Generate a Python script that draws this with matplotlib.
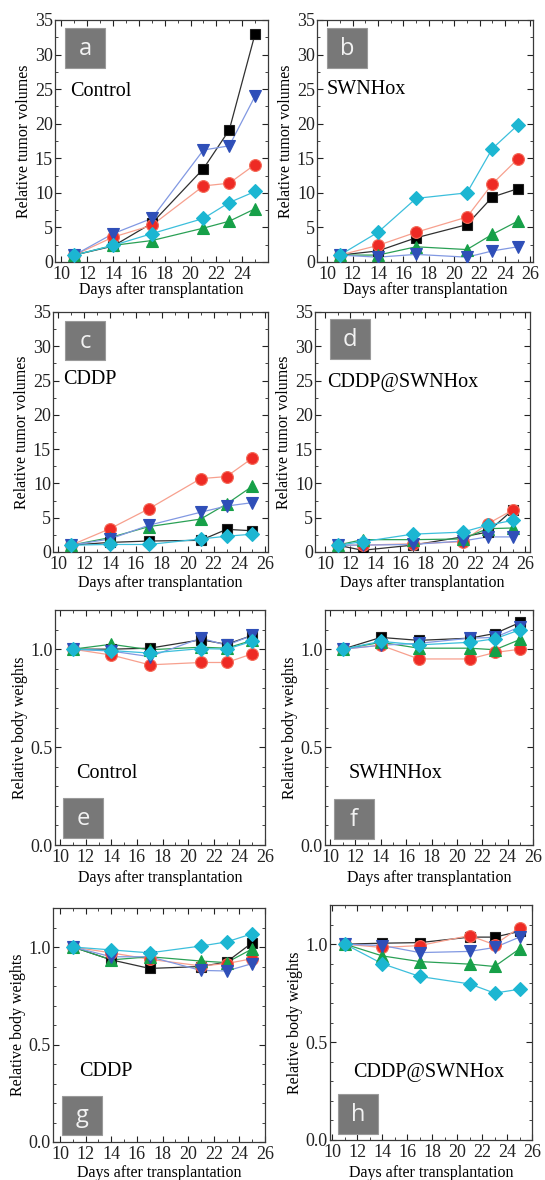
import matplotlib
matplotlib.use("Agg")
import matplotlib.pyplot as plt
from matplotlib.ticker import MultipleLocator
from matplotlib.patches import Rectangle

W, H = 545, 1180
SERIF = ['Liberation Serif', 'DejaVu Serif']
plt.rcParams['font.family'] = SERIF

days = [11, 14, 17, 21, 23, 25]
days_d = [11, 13, 17, 21, 23, 25]

# Tumor volumes
tumor_a = {
    'black': [1.0, 2.3, 5.6, 13.5, 19.1, 33.0],
    'red':   [1.0, 3.6, 5.3, 11.0, 11.4, 14.1],
    'green': [1.0, 2.4, 3.1, 4.9, 5.9, 7.7],
    'blue':  [1.0, 4.1, 6.3, 16.2, 16.8, 24.0],
    'cyan':  [1.0, 2.4, 4.1, 6.3, 8.6, 10.2],
}
tumor_b = {
    'black': [1.0, 1.6, 3.5, 5.4, 9.4, 10.6],
    'red':   [1.0, 2.4, 4.3, 6.5, 11.3, 14.9],
    'green': [1.0, 1.0, 2.2, 1.8, 4.0, 5.9],
    'blue':  [1.0, 0.7, 1.1, 0.7, 1.6, 2.2],
    'cyan':  [1.0, 4.3, 9.2, 10.0, 16.4, 19.8],
}
tumor_c = {
    'black': [1.0, 1.4, 1.6, 1.7, 3.3, 3.1],
    'red':   [1.0, 3.4, 6.3, 10.7, 11.0, 13.7],
    'green': [1.0, 2.1, 3.7, 4.8, 7.0, 9.6],
    'blue':  [1.0, 1.9, 3.9, 5.8, 6.7, 7.2],
    'cyan':  [1.0, 1.1, 1.1, 1.9, 2.3, 2.6],
}
tumor_d = {
    'black': [1.0, 0.25, 1.0, 2.2, 2.9, 6.1],
    'red':   [1.0, 1.0, 1.2, 1.5, 4.1, 6.1],
    'green': [1.0, 1.8, 1.8, 1.9, 3.4, 3.5],
    'blue':  [1.0, 1.0, 1.1, 1.6, 2.2, 2.2],
    'cyan':  [1.0, 1.5, 2.6, 2.9, 3.9, 4.6],
}
# Relative body weights
weight_e = {
    'black': [1.0, 1.0, 1.005, 1.048, 1.025, 1.07],
    'red':   [1.0, 0.97, 0.92, 0.932, 0.932, 0.976],
    'green': [1.0, 1.025, 0.997, 1.01, 1.005, 1.045],
    'blue':  [1.0, 0.99, 0.962, 1.056, 1.02, 1.07],
    'cyan':  [1.0, 0.993, 0.98, 1.003, 1.0, 1.04],
}
weight_f = {
    'black': [1.0, 1.06, 1.045, 1.056, 1.08, 1.137],
    'red':   [1.0, 1.02, 0.95, 0.95, 0.983, 1.0],
    'green': [1.0, 1.035, 1.005, 1.005, 0.997, 1.05],
    'blue':  [1.0, 1.02, 1.03, 1.056, 1.06, 1.115],
    'cyan':  [1.0, 1.04, 1.022, 1.035, 1.053, 1.1],
}
weight_g = {
    'black': [1.0, 0.934, 0.89, 0.90, 0.923, 1.022],
    'red':   [1.0, 0.97, 0.937, 0.903, 0.915, 0.94],
    'green': [1.0, 0.934, 0.95, 0.928, 0.92, 0.99],
    'blue':  [1.0, 0.95, 0.95, 0.88, 0.877, 0.915],
    'cyan':  [1.0, 0.985, 0.97, 1.005, 1.026, 1.068],
}
weight_h = {
    'black': [1.0, 1.005, 1.008, 1.036, 1.036, 1.065],
    'red':   [1.0, 0.983, 0.993, 1.044, 0.997, 1.085],
    'green': [1.0, 0.94, 0.911, 0.898, 0.886, 0.976],
    'blue':  [1.0, 0.993, 0.957, 0.963, 0.983, 1.036],
    'cyan':  [1.0, 0.9, 0.835, 0.797, 0.75, 0.77],
}

styles = {
    'black': dict(marker='s', mfc='#000000', mec='#202020', line='#303030', ms=7.5),
    'red':   dict(marker='o', mfc='#ee2a24', mec='#f56a58', line='#f7a08e', ms=8.5),
    'green': dict(marker='^', mfc='#16a048', mec='#16a048', line='#2aa055', ms=9),
    'blue':  dict(marker='v', mfc='#2f4fb8', mec='#2f4fb8', line='#8198e2', ms=9),
    'cyan':  dict(marker='D', mfc='#1cb6d2', mec='#1cb6d2', line='#3cbfdc', ms=7.5),
}
order = ['black', 'red', 'green', 'blue', 'cyan']

fig = plt.figure(figsize=(W / 100, H / 100), dpi=100)


def rect(l, r, t, b):
    return [l / W, 1 - b / H, (r - l) / W, (b - t) / H]


def ftext(x, y, s, **kw):
    kw.setdefault('family', SERIF)
    fig.text(x / W, 1 - y / H, s, **kw)


def letter_box(x0, x1, y0, y1, s):
    fig.patches.append(Rectangle((x0 / W, 1 - y1 / H), (x1 - x0) / W, (y1 - y0) / H,
                                 transform=fig.transFigure, facecolor='#787878',
                                 edgecolor='#9a9a9a', lw=0.8, zorder=5))
    ftext((x0 + x1) / 2, (y0 + y1) / 2 + 1, s, color='#f2f2f2', fontsize=17,
          family=['Open Sans', 'DejaVu Sans'], ha='center', va='center', zorder=6)


panels = [
    (tumor_a, days, (55, 268, 20, 262), (9.5, 26.0), 'tumor', 'Control', (70, 91), (65, 105, 28, 68), 'a', 290, list(range(10, 25, 2))),
    (tumor_b, days, (317, 533, 20, 262), (9.2, 26.2), 'tumor', 'SWNHox', (327, 90), (327, 367, 28, 68), 'b', 290, list(range(10, 27, 2))),
    (tumor_c, days, (53, 268, 312, 552), (9.6, 26.2), 'tumor', 'CDDP', (63, 380), (65, 105, 321, 360), 'c', 583, list(range(10, 27, 2))),
    (tumor_d, days_d, (315, 530, 312, 552), (9.2, 26.4), 'tumor', 'CDDP@SWNHox', (327, 382), (330, 370, 319, 359), 'd', 583, list(range(10, 27, 2))),
    (weight_e, days, (55, 265, 610, 845), (9.6, 26.0), 'weight', 'Control', (76, 774), (63, 103, 798, 838), 'e', 878, list(range(10, 27, 2))),
    (weight_f, days, (325, 533, 610, 845), (9.6, 26.0), 'weight', 'SWHNHox', (349, 773), (334, 374, 799, 839), 'f', 878, list(range(10, 27, 2))),
    (weight_g, days, (53, 265, 908, 1142), (9.45, 26.0), 'weight', 'CDDP', (79, 1072), (62, 102, 1096, 1135), 'g', 1173, list(range(10, 27, 2))),
    (weight_h, days, (330, 532, 905, 1140), (9.8, 26.0), 'weight', 'CDDP@SWNHox', (353, 1073), (338, 378, 1094, 1134), 'h', 1173, list(range(10, 27, 2))),
]

for data, xs, rc, xlim, kind, title, tpos, box, letter, xly, xt in panels:
    ax = fig.add_axes(rect(*rc))
    for key in order:
        st = styles[key]
        ax.plot(xs, data[key], '-', color=st['line'], lw=0.9, zorder=2)
        ax.plot(xs, data[key], linestyle='none', marker=st['marker'], ms=st['ms'],
                mfc=st['mfc'], mec=st['mec'], mew=0.8, zorder=3)
    ax.set_xlim(*xlim)
    ax.set_xticks(xt)
    ax.set_xticklabels([str(v) for v in xt], family=SERIF, fontsize=13)
    ax.xaxis.set_minor_locator(MultipleLocator(1))
    if kind == 'tumor':
        ax.set_ylim(0, 35)
        yt = list(range(0, 36, 5))
        ax.set_yticks(yt)
        ax.set_yticklabels([str(v) for v in yt], family=SERIF, fontsize=13)
        ax.yaxis.set_minor_locator(MultipleLocator(2.5))
        ax.set_ylabel('Relative tumor volumes', fontsize=11.5, labelpad=2, family=SERIF)
    else:
        ax.set_ylim(0, 1.2)
        ax.set_yticks([0.0, 0.5, 1.0])
        ax.set_yticklabels(['0.0', '0.5', '1.0'], family=SERIF, fontsize=13)
        ax.yaxis.set_minor_locator(MultipleLocator(0.1))
        ax.set_ylabel('Relative body weights', fontsize=11.5, labelpad=2, family=SERIF)
    ax.tick_params(which='both', direction='in', top=True, right=True,
                   colors='#222222')
    ax.tick_params(axis='x', pad=3)
    ax.tick_params(axis='y', pad=1.5)
    ax.tick_params(which='major', length=4, width=0.8)
    ax.tick_params(which='minor', length=2, width=0.6)
    for sp in ax.spines.values():
        sp.set_color('#3a3a3a')
        sp.set_linewidth(0.9)
    cx = (rc[0] + rc[1]) / 2
    ftext(cx, xly, 'Days after transplantation', fontsize=11.5, ha='center', va='center')
    ftext(tpos[0], tpos[1], title, fontsize=14.5, ha='left', va='center')
    letter_box(*box, letter)

fig.savefig('out.png', dpi=100, facecolor='white')
